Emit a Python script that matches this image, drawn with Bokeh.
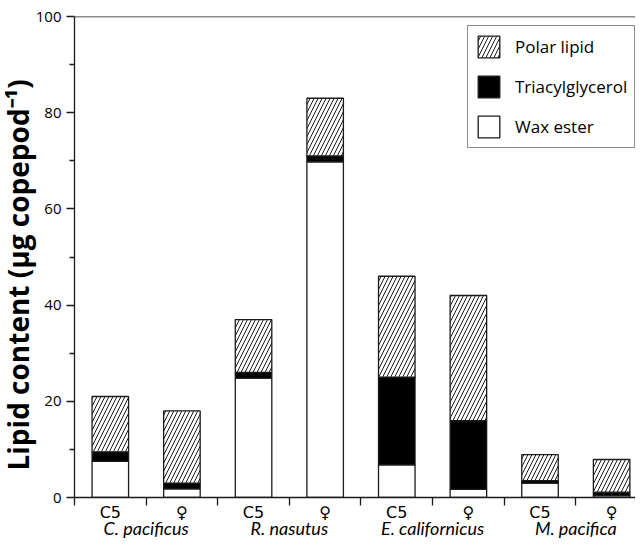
from bokeh.plotting import figure
from bokeh.models import Range1d, FixedTicker, LinearAxis, Span, Legend, LegendItem, ColumnDataSource, Title
from bokeh.embed import file_html
from bokeh.resources import INLINE
import numpy as np

# ---- data ----
species = ["C. pacificus", "R. nasutus", "E. californicus", "M. pacifica"]
stages = ["C5", "♀", "C5", "♀", "C5", "♀", "C5", "♀"]
wax_ester = [7.5, 1.8, 24.8, 69.8, 6.8, 1.7, 3.0, 0.4]
triacylglycerol = [2.0, 1.2, 1.2, 1.2, 18.2, 14.3, 0.5, 0.7]
polar_lipid = [11.5, 15.0, 11.0, 12.0, 21.0, 26.0, 5.4, 6.8]
y_ticks = [0, 20, 40, 60, 80, 100]
y_minor = [10, 30, 50, 70, 90]
y_title = "Lipid content (µg copepod⁻¹)"

n = len(stages)
x = np.arange(n) + 0.5
wax = np.array(wax_ester)
tag = np.array(triacylglycerol)
pol = np.array(polar_lipid)

src = ColumnDataSource(dict(
    x=x,
    wax_bot=np.zeros(n), wax_top=wax,
    tag_bot=wax, tag_top=wax + tag,
    pol_bot=wax + tag, pol_top=wax + tag + pol,
))

FONT = "Open Sans"
INK = "#1a1a1a"
W, H = 635, 541
LEFT, TOP, BOTTOM = 71, 16, 44
PX_PER_CAT = 72

p = figure(width=W, height=H,
           x_range=Range1d(0, (W - LEFT) / PX_PER_CAT), y_range=Range1d(0, 100),
           output_backend="svg", toolbar_location=None,
           min_border_left=LEFT, min_border_right=0, min_border_top=TOP, min_border_bottom=BOTTOM)
p.grid.visible = False
p.outline_line_color = None
p.background_fill_color = "white"
p.border_fill_color = "white"

BW = 0.51
r_wax = p.vbar(x="x", bottom="wax_bot", top="wax_top", width=BW, source=src,
               fill_color="white", line_color=INK, line_width=1.3)
r_tag = p.vbar(x="x", bottom="tag_bot", top="tag_top", width=BW, source=src,
               fill_color="black", line_color=INK, line_width=1.3)
r_pol = p.vbar(x="x", bottom="pol_bot", top="pol_top", width=BW, source=src,
               fill_color="white", line_color=INK, line_width=1.3,
               hatch_pattern="/", hatch_color=INK, hatch_scale=8, hatch_weight=1)

# y axis
ya = p.yaxis[0]
ya.ticker = FixedTicker(ticks=y_ticks, minor_ticks=y_minor)
ya.major_label_text_font = FONT
ya.major_label_text_font_size = "15px"
ya.major_label_text_color = "black"
ya.major_label_standoff = 5
ya.major_tick_in = 0
ya.major_tick_out = 8
ya.minor_tick_in = 0
ya.minor_tick_out = 5
ya.axis_line_color = INK
ya.axis_line_width = 1.3
ya.major_tick_line_color = INK
ya.major_tick_line_width = 1.3
ya.minor_tick_line_color = INK
ya.minor_tick_line_width = 1.3

# y axis title as a side title, starting near the bottom of the axis
p.add_layout(Title(text=y_title, align="left", offset=27, standoff=-8,
                   text_font=FONT, text_font_style="bold", text_font_size="28px",
                   text_color="black"), "left")

# x axis: stage labels, ticks at category boundaries
xa = p.xaxis[0]
xa.ticker = FixedTicker(ticks=list(x), minor_ticks=list(range(n + 1)))
xa.major_label_overrides = {float(c): s for c, s in zip(x, stages)}
xa.major_tick_out = 0
xa.major_tick_in = 0
xa.major_tick_line_color = None
xa.minor_tick_out = 8
xa.minor_tick_in = 0
xa.minor_tick_line_color = INK
xa.minor_tick_line_width = 1.3
xa.axis_line_color = INK
xa.axis_line_width = 1.3
xa.major_label_text_font = "DejaVu Sans"
xa.major_label_text_font_size = "16px"
xa.major_label_text_color = "black"
xa.major_label_standoff = -3

# species axis
sp_pos = [1.0, 3.0, 5.0, 7.0]
xa2 = LinearAxis(ticker=FixedTicker(ticks=sp_pos, minor_ticks=[]),
                 major_label_overrides={c: s for c, s in zip(sp_pos, species)},
                 axis_line_color=None, major_tick_line_color=None, minor_tick_line_color=None,
                 major_tick_out=0, major_tick_in=0, minor_tick_out=0, minor_tick_in=0,
                 major_label_text_font="Lato", major_label_text_font_size="18px",
                 major_label_text_font_style="italic", major_label_text_color="black",
                 major_label_standoff=-8)
p.add_layout(xa2, "below")

p.add_layout(Span(location=100, dimension="width", line_color=INK, line_width=1.3))

legend = Legend(items=[
    LegendItem(label="Polar lipid", renderers=[r_pol]),
    LegendItem(label="Triacylglycerol", renderers=[r_tag]),
    LegendItem(label="Wax ester", renderers=[r_wax]),
], location=(393, 349))
legend.glyph_width = 27
legend.glyph_height = 27
legend.label_height = 27
legend.spacing = 13
legend.padding = 7
legend.margin = 0
legend.label_standoff = 13
legend.label_text_font = FONT
legend.label_text_font_size = "17px"
legend.label_text_color = "black"
legend.border_line_color = INK
legend.border_line_width = 1.3
legend.background_fill_alpha = 1
p.add_layout(legend)

open("out.html", "w").write(file_html(p, INLINE))
